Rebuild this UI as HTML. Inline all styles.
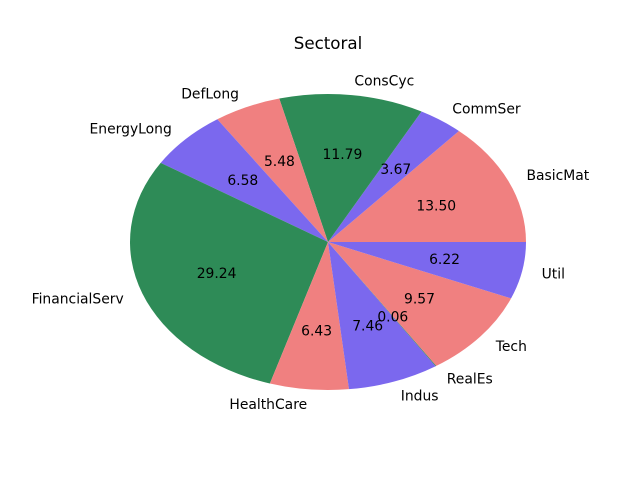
<!DOCTYPE html>
<html><head><meta charset="utf-8"><style>
body{margin:0;background:#fff}
svg{display:block;font-family:"DejaVu Sans","Liberation Sans",sans-serif}
</style></head><body>
<svg id="chart" width="640" height="480">
<rect width="640" height="480" fill="#fff"/>
<text x="328" y="49" font-size="16.7" text-anchor="middle">Sectoral</text>
<g id="slices"></g><g id="labels"></g>
</svg>
<script>
const categories=["BasicMat","CommSer","ConsCyc","DefLong","EnergyLong","FinancialServ","HealthCare","Indus","RealEs","Tech","Util"];
const values=[13.50,3.67,11.79,5.48,6.58,29.24,6.43,7.46,0.06,9.57,6.22];
const colors=["#f08080","#7b68ee","#2e8b57"];
const cx=328,cy=242,rx=198,ry=148;
const ns="http://www.w3.org/2000/svg";
const total=values.reduce((a,b)=>a+b,0);
const gS=document.getElementById("slices"),gL=document.getElementById("labels");
function pt(a,f){return [cx+rx*f*Math.cos(a),cy-ry*f*Math.sin(a)];}
let start=0;
values.forEach((v,i)=>{
  const sweep=v/total*2*Math.PI,end=start+sweep;
  const p0=pt(start,1),p1=pt(end,1);
  const path=document.createElementNS(ns,"path");
  path.setAttribute("d",`M${cx},${cy}L${p0[0]},${p0[1]}A${rx},${ry} 0 ${sweep>Math.PI?1:0} 0 ${p1[0]},${p1[1]}Z`);
  path.setAttribute("fill",colors[i%3]);
  
  
  gS.appendChild(path);
  const mid=(start+end)/2;
  const lp=pt(mid,1.1);
  const t=document.createElementNS(ns,"text");
  t.setAttribute("x",lp[0]);t.setAttribute("y",lp[1]+5);
  t.setAttribute("font-size","13.9");
  t.setAttribute("text-anchor",Math.cos(mid)>=0?"start":"end");
  t.textContent=categories[i];
  
  
  gL.appendChild(t);
  const pp=pt(mid,0.6);
  const p=document.createElementNS(ns,"text");
  p.setAttribute("x",pp[0]);p.setAttribute("y",pp[1]+5);
  p.setAttribute("font-size","13.9");p.setAttribute("text-anchor","middle");
  p.textContent=v.toFixed(2);
  
  
  gL.appendChild(p);
  start=end;
});
</script>
</body></html>
